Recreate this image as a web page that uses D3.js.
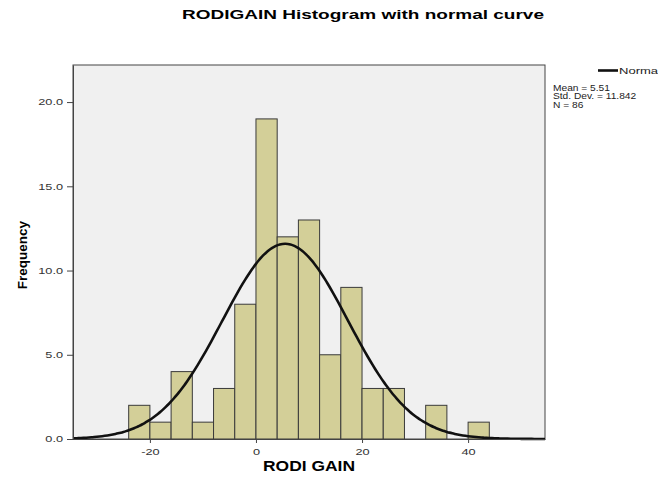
<html>
<head>
<meta charset="utf-8">
<script src="https://cdn.jsdelivr.net/npm/d3@7"></script>
<style>
  body { margin: 0; background: #fff; }
  text { font-family: "Liberation Sans", Arial, sans-serif; }
</style>
</head>
<body>
<script>
// histogram bins (lower edge, width 4) and counts
var binStart = [-24, -20, -16, -12, -8, -4, 0, 4, 8, 12, 16, 20, 24, 28, 32, 36, 40];
var counts   = [2, 1, 4, 1, 3, 8, 19, 12, 13, 5, 9, 3, 3, 0, 2, 0, 1];
var binWidth = 4;
var mean = 5.51, sd = 11.842, n = 86;
var xTicks = [-20, 0, 20, 40];
var yTicks = [0, 5, 10, 15, 20];

var width = 658, height = 481;
var plotL = 73, plotR = 545, plotT = 65, plotB = 439;
var sx = 1.5; // the picture is stretched sideways

var svg = d3.select("body").append("svg")
    .attr("width", width)
    .attr("height", height);

var x = d3.scaleLinear().domain([-34.5, 54.5]).range([plotL, plotR]);
var y = d3.scaleLinear().domain([0, 22.2]).range([plotB, plotT]);

// plot background
svg.append("rect")
    .attr("x", plotL).attr("y", plotT)
    .attr("width", plotR - plotL).attr("height", plotB - plotT)
    .attr("fill", "#f0f0f0")
    .attr("stroke", "#444").attr("stroke-width", 1);

// bars
var bars = binStart.map(function(s, i) { return {x0: s, x1: s + binWidth, c: counts[i]}; })
    .filter(function(d) { return d.c > 0; });
svg.selectAll("rect.bar").data(bars).enter().append("rect")
    .attr("class", "bar")
    .attr("x", function(d) { return x(d.x0); })
    .attr("y", function(d) { return y(d.c); })
    .attr("width", function(d) { return x(d.x1) - x(d.x0); })
    .attr("height", function(d) { return y(0) - y(d.c); })
    .attr("fill", "#d3cf98")
    .attr("stroke", "#3a3a3a").attr("stroke-width", 1);

// normal curve
var pts = d3.range(-34.5, 54.51, 0.5);
var k = n * binWidth / (sd * Math.sqrt(2 * Math.PI));
var line = d3.line()
    .x(function(v) { return x(v); })
    .y(function(v) { return y(k * Math.exp(-0.5 * Math.pow((v - mean) / sd, 2))); })
    .curve(d3.curveBasis);
svg.append("path").datum(pts)
    .attr("d", line)
    .attr("fill", "none")
    .attr("stroke", "#111").attr("stroke-width", 2.6);

// axes
var xAxis = svg.append("g").attr("transform", "translate(0," + plotB + ")")
    .call(d3.axisBottom(x).tickValues(xTicks).tickSize(4).tickSizeOuter(0).tickPadding(6)
      .tickFormat(function(d) { return String(d); }));
var yAxis = svg.append("g").attr("transform", "translate(" + plotL + ",0)")
    .call(d3.axisLeft(y).tickValues(yTicks).tickSize(6).tickSizeOuter(0)
      .tickFormat(function(d) { return d.toFixed(1); }));
[xAxis, yAxis].forEach(function(a) {
  a.select(".domain").attr("stroke", "#444");
  a.selectAll(".tick line").attr("stroke", "#444");
  a.selectAll(".tick text").attr("fill", "#333").style("font-size", "8.5px")
    .style("font-family", "Liberation Sans, Arial, sans-serif")
    .attr("transform", "scale(" + sx + ",1)");
});
yAxis.selectAll(".tick text").attr("x", -10 / sx);

// titles
svg.append("text").attr("x", 182).attr("y", 19.3)
    .attr("font-weight", "bold").attr("font-size", 12.6)
    .attr("textLength", 362).attr("lengthAdjust", "spacingAndGlyphs")
    .text("RODIGAIN Histogram with normal curve");
svg.append("text").attr("x", 263).attr("y", 470.7)
    .attr("font-weight", "bold").attr("font-size", 14)
    .attr("textLength", 92).attr("lengthAdjust", "spacingAndGlyphs")
    .text("RODI GAIN");
svg.append("text").attr("transform", "translate(27,255) rotate(-90)")
    .attr("text-anchor", "middle").attr("font-weight", "bold").attr("font-size", 13.5)
    .text("Frequency");

// legend
svg.append("line").attr("x1", 598).attr("x2", 618).attr("y1", 70.5).attr("y2", 70.5)
    .attr("stroke", "#111").attr("stroke-width", 2.6);
svg.append("text").attr("transform", "translate(619,74) scale(1.45,1)")
    .attr("font-size", 9).attr("fill", "#222").text("Normal");
var stats = ["Mean = " + mean, "Std. Dev. = " + sd, "N = " + n];
svg.append("g").attr("transform", "translate(553,0) scale(1.2,1)")
  .selectAll("text").data(stats).enter().append("text")
    .attr("x", 0)
    .attr("y", function(d, i) { return 91 + i * 8.5; })
    .attr("font-size", 8.5).attr("fill", "#222")
    .text(function(d) { return d; });
</script>
</body>
</html>
